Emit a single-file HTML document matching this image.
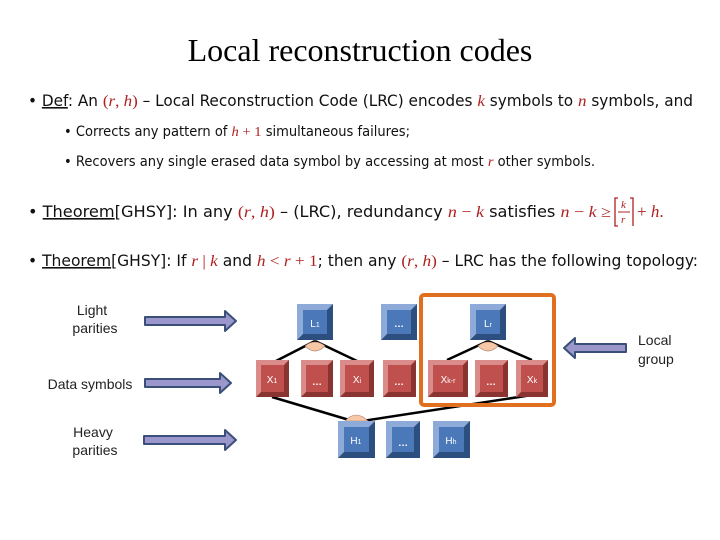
<!DOCTYPE html>
<html><head><meta charset="utf-8"><style>
html,body{margin:0;padding:0;background:#fff;}
svg{display:block;}
.t{font-family:"DejaVu Sans Condensed","DejaVu Sans","Liberation Sans",sans-serif;font-size:16px;fill:#111;}
.s{font-size:14px;}
.m{font-family:"Liberation Serif",serif;font-style:italic;fill:#b02020;}
.mn{font-family:"Liberation Serif",serif;fill:#b02020;}
.lbl{font-family:"Liberation Sans",sans-serif;font-size:14px;fill:#222;}
.bx{font-family:"Liberation Sans",sans-serif;font-size:10px;fill:#fff;}
</style></head><body>
<svg width="720" height="540" viewBox="0 0 720 540" xmlns="http://www.w3.org/2000/svg">
<defs>
<g id="bb"></g>
</defs>
<text x="360" y="61" text-anchor="middle" font-family="Liberation Serif,serif" font-size="32" fill="#000">Local reconstruction codes</text>

<text class="t" x="28" y="106" textLength="665" lengthAdjust="spacingAndGlyphs">• <tspan text-decoration="underline">Def</tspan>: An <tspan class="mn">(</tspan><tspan class="m">r</tspan><tspan class="mn">, </tspan><tspan class="m">h</tspan><tspan class="mn">)</tspan> – Local Reconstruction Code (LRC) encodes <tspan class="m">k</tspan> symbols to <tspan class="m">n</tspan> symbols, and</text>
<text class="t s" x="64" y="136" textLength="346" lengthAdjust="spacingAndGlyphs">• Corrects any pattern of <tspan class="m">h</tspan><tspan class="mn"> + 1</tspan> simultaneous failures;</text>
<text class="t s" x="64" y="166" textLength="531" lengthAdjust="spacingAndGlyphs">• Recovers any single erased data symbol by accessing at most <tspan class="m">r</tspan> other symbols.</text>
<text class="t" x="28" y="217" textLength="583" lengthAdjust="spacingAndGlyphs">• <tspan text-decoration="underline">Theorem</tspan>[GHSY]:  In any <tspan class="mn">(</tspan><tspan class="m">r</tspan><tspan class="mn">, </tspan><tspan class="m">h</tspan><tspan class="mn">)</tspan> – (LRC),  redundancy <tspan class="m">n</tspan><tspan class="mn"> − </tspan><tspan class="m">k</tspan> satisfies <tspan class="m">n</tspan><tspan class="mn"> − </tspan><tspan class="m">k</tspan><tspan class="mn"> ≥</tspan></text>
<path d="M618 198 L615 198 L615 226 L618 226 M630 198 L633 198 L633 222 M633 198 L633 226" stroke="#b02020" stroke-width="1.3" fill="none"/>
<text class="m" x="621" y="208" font-size="11">k</text>
<line x1="618" y1="212" x2="630" y2="212" stroke="#b02020" stroke-width="1"/>
<text class="m" x="621" y="223" font-size="11">r</text>
<text class="mn" x="637" y="217" font-size="17">+ <tspan class="m">h</tspan>.</text>
<text class="t" x="28" y="266" textLength="670" lengthAdjust="spacingAndGlyphs">• <tspan text-decoration="underline">Theorem</tspan>[GHSY]:  If <tspan class="m">r</tspan><tspan class="mn"> | </tspan><tspan class="m">k</tspan> and <tspan class="m">h</tspan><tspan class="mn"> &lt; </tspan><tspan class="m">r</tspan><tspan class="mn"> + 1</tspan>; then any <tspan class="mn">(</tspan><tspan class="m">r</tspan><tspan class="mn">, </tspan><tspan class="m">h</tspan><tspan class="mn">)</tspan> – LRC has the following topology:</text>

<!-- labels -->
<text class="lbl" x="92" y="315" text-anchor="middle">Light</text>
<text class="lbl" x="95" y="333" text-anchor="middle">parities</text>
<text class="lbl" x="90" y="389" text-anchor="middle">Data symbols</text>
<text class="lbl" x="93" y="437" text-anchor="middle">Heavy</text>
<text class="lbl" x="95" y="455" text-anchor="middle">parities</text>
<text class="lbl" x="638" y="345">Local</text>
<text class="lbl" x="638" y="364">group</text>

<!-- arrows -->
<g fill="#9b97cc" stroke="#3a5078" stroke-width="2" stroke-linejoin="round">
<path d="M145 317 H225 V311 L236 321 L225 331 V325 H145 Z"/>
<path d="M145 379 H220 V373 L231 383 L220 393 V387 H145 Z"/>
<path d="M144 436 H225 V430 L236 440 L225 450 V444 H144 Z"/>
<path d="M626 344 H575 V338 L564 348 L575 358 V352 H626 Z"/>
</g>

<!-- lines -->
<g stroke="#000" stroke-width="2.5" fill="none">
<line x1="315" y1="341" x2="276" y2="361"/>
<line x1="315" y1="341" x2="357" y2="361"/>
<line x1="488" y1="341" x2="447" y2="360"/>
<line x1="488" y1="341" x2="532" y2="360"/>
<line x1="272" y1="397" x2="356" y2="422"/>
<line x1="356" y1="422" x2="532" y2="395"/>
</g>
<g fill="#f6c8a6" stroke="#b08070" stroke-width="0.6">
<path d="M305 346 Q315 338 325 346 Q315 356 305 346 Z"/>
<path d="M478 346 Q488 338 498 346 Q488 356 478 346 Z"/>
<path d="M345 421 Q356 409 368 421 Z"/>
</g>

<!-- orange group -->
<rect x="421" y="295" width="133" height="110" rx="3" fill="none" stroke="#e07020" stroke-width="4"/>

<!-- boxes -->
<g id="blue">
<!-- helper drawn inline -->
</g>
<g>
<!-- blue boxes: x,y,w,h -->
<g transform="translate(297,304)"><rect width="36" height="36" fill="#2c4f80"/><path d="M0 0 H36 L30 6 H6 V30 L0 36 Z" fill="#8eaad8"/><rect x="6" y="6" width="24" height="24" fill="#4a78b8"/></g>
<g transform="translate(381,304)"><rect width="36" height="36" fill="#2c4f80"/><path d="M0 0 H36 L30 6 H6 V30 L0 36 Z" fill="#8eaad8"/><rect x="6" y="6" width="24" height="24" fill="#4a78b8"/></g>
<g transform="translate(470,304)"><rect width="36" height="36" fill="#2c4f80"/><path d="M0 0 H36 L30 6 H6 V30 L0 36 Z" fill="#8eaad8"/><rect x="6" y="6" width="24" height="24" fill="#4a78b8"/></g>
<g transform="translate(338,421)"><rect width="37" height="37" fill="#2c4f80"/><path d="M0 0 H37 L31 6 H6 V31 L0 37 Z" fill="#8eaad8"/><rect x="6" y="6" width="25" height="25" fill="#4a78b8"/></g>
<g transform="translate(386,421)"><rect width="34" height="37" fill="#2c4f80"/><path d="M0 0 H34 L28 6 H6 V31 L0 37 Z" fill="#8eaad8"/><rect x="6" y="6" width="22" height="25" fill="#4a78b8"/></g>
<g transform="translate(433,421)"><rect width="37" height="37" fill="#2c4f80"/><path d="M0 0 H37 L31 6 H6 V31 L0 37 Z" fill="#8eaad8"/><rect x="6" y="6" width="25" height="25" fill="#4a78b8"/></g>
<!-- red boxes -->
<g transform="translate(256,360)"><rect width="33" height="37" fill="#8a3432"/><path d="M0 0 H33 L28 5 H5 V32 L0 37 Z" fill="#d98c8a"/><rect x="5" y="5" width="23" height="27" fill="#c0504d"/></g>
<g transform="translate(301,360)"><rect width="32" height="37" fill="#8a3432"/><path d="M0 0 H32 L27 5 H5 V32 L0 37 Z" fill="#d98c8a"/><rect x="5" y="5" width="22" height="27" fill="#c0504d"/></g>
<g transform="translate(340,360)"><rect width="34" height="37" fill="#8a3432"/><path d="M0 0 H34 L29 5 H5 V32 L0 37 Z" fill="#d98c8a"/><rect x="5" y="5" width="24" height="27" fill="#c0504d"/></g>
<g transform="translate(383,360)"><rect width="33" height="37" fill="#8a3432"/><path d="M0 0 H33 L28 5 H5 V32 L0 37 Z" fill="#d98c8a"/><rect x="5" y="5" width="23" height="27" fill="#c0504d"/></g>
<g transform="translate(428,360)"><rect width="40" height="37" fill="#8a3432"/><path d="M0 0 H40 L35 5 H5 V32 L0 37 Z" fill="#d98c8a"/><rect x="5" y="5" width="30" height="27" fill="#c0504d"/></g>
<g transform="translate(475,360)"><rect width="33" height="37" fill="#8a3432"/><path d="M0 0 H33 L28 5 H5 V32 L0 37 Z" fill="#d98c8a"/><rect x="5" y="5" width="23" height="27" fill="#c0504d"/></g>
<g transform="translate(516,360)"><rect width="32" height="37" fill="#8a3432"/><path d="M0 0 H32 L27 5 H5 V32 L0 37 Z" fill="#d98c8a"/><rect x="5" y="5" width="22" height="27" fill="#c0504d"/></g>
</g>
<!-- box labels -->
<g class="bx" text-anchor="middle">
<text x="315" y="327">L<tspan font-size="7">1</tspan></text>
<text x="399" y="327" font-weight="bold">…</text>
<text x="488" y="327">L<tspan font-size="7">r</tspan></text>
<text x="272" y="383">X<tspan font-size="7">1</tspan></text>
<text x="317" y="385" font-weight="bold">…</text>
<text x="357" y="383">X<tspan font-size="7">i</tspan></text>
<text x="399" y="385" font-weight="bold">…</text>
<text x="448" y="383">X<tspan font-size="7">k-r</tspan></text>
<text x="491" y="385" font-weight="bold">…</text>
<text x="532" y="383">X<tspan font-size="7">k</tspan></text>
<text x="356" y="444">H<tspan font-size="7">1</tspan></text>
<text x="403" y="446" font-weight="bold">…</text>
<text x="451" y="444">H<tspan font-size="7">h</tspan></text>
</g>
</svg>
</body></html>
